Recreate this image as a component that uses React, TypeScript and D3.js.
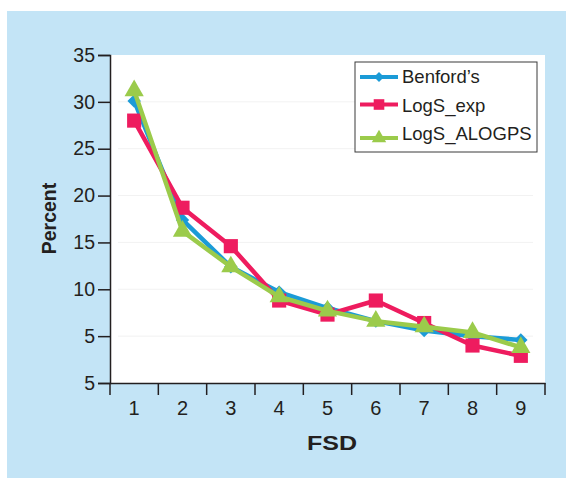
import React, { useEffect, useRef } from "react";
import * as d3 from "d3";

const digits = ["1", "2", "3", "4", "5", "6", "7", "8", "9"];
const benford = [30.1, 17.4, 12.4, 9.7, 8.0, 6.6, 5.6, 5.0, 4.6];
const logsExp = [28.0, 18.7, 14.6, 8.8, 7.3, 8.8, 6.4, 4.0, 2.9];
const logsAlogps = [31.2, 16.2, 12.4, 9.2, 7.7, 6.6, 6.0, 5.4, 3.8];
const yTickValues = [0, 5, 10, 15, 20, 25, 30, 35];
const yTickLabels = ["5", "5", "10", "15", "20", "25", "30", "35"];

const seriesNames = ["Benford\u2019s", "LogS_exp", "LogS_ALOGPS"];
const seriesColors = ["#1b9bd7", "#ee1c5f", "#9bcb4b"];
const seriesShapes = ["diamond", "square", "triangle"];

const App: React.FC = () => {
  const svgRef = useRef<SVGSVGElement | null>(null);

  useEffect(() => {
    const width = 568;
    const height = 480;
    const plot = { left: 110, right: 545, top: 55, bottom: 383 };
    const ink = "#231f20";
    const font = "'Liberation Sans', Arial, Helvetica, sans-serif";

    const svg = d3.select(svgRef.current);
    svg.selectAll("*").remove();
    svg.attr("width", width).attr("height", height);

    // background panel
    svg
      .append("rect")
      .attr("x", 7)
      .attr("y", 11)
      .attr("width", 559)
      .attr("height", 467)
      .attr("fill", "#c3e4f6");

    svg
      .append("rect")
      .attr("x", plot.left)
      .attr("y", plot.top)
      .attr("width", plot.right - plot.left)
      .attr("height", plot.bottom - plot.top)
      .attr("fill", "#ffffff");

    const x = d3
      .scaleBand<string>()
      .domain(digits)
      .range([plot.left, plot.right])
      .padding(0);

    const y = d3.scaleLinear().domain([0, 35]).range([plot.bottom, plot.top]);

    // faint gridlines
    svg
      .append("g")
      .selectAll("line")
      .data(yTickValues.slice(1, -1))
      .join("line")
      .attr("x1", plot.left + 8)
      .attr("x2", plot.right - 12)
      .attr("y1", (d) => y(d))
      .attr("y2", (d) => y(d))
      .attr("stroke", "#f2f2f2")
      .attr("stroke-width", 1);

    // y axis
    const yAxis = svg
      .append("g")
      .attr("transform", `translate(${plot.left},0)`)
      .call(
        d3
          .axisLeft(y)
          .tickValues(yTickValues)
          .tickSize(12)
          .tickPadding(3)
          .tickFormat((_d, i) => yTickLabels[i])
      );
    yAxis.select(".domain").attr("stroke", ink).attr("stroke-width", 1.5);
    yAxis.selectAll(".tick line").attr("stroke", ink).attr("stroke-width", 1.5);
    yAxis
      .selectAll(".tick text")
      .attr("fill", ink)
      .style("font-family", font)
      .style("font-size", "19.5px");

    // x axis
    const xAxis = svg
      .append("g")
      .attr("transform", `translate(0,${plot.bottom})`)
      .call(d3.axisBottom(x).tickSize(0).tickPadding(18));
    xAxis.select(".domain").attr("stroke", ink).attr("stroke-width", 1.5);
    xAxis
      .selectAll(".tick text")
      .attr("fill", ink)
      .style("font-family", font)
      .style("font-size", "20px");

    const bounds = [...digits.map((d) => x(d) as number), plot.right];
    svg
      .append("g")
      .selectAll("line")
      .data(bounds)
      .join("line")
      .attr("x1", (d) => d)
      .attr("x2", (d) => d)
      .attr("y1", plot.bottom)
      .attr("y2", plot.bottom + 12)
      .attr("stroke", ink)
      .attr("stroke-width", 1.5);

    // axis titles
    svg
      .append("text")
      .attr("x", 307)
      .attr("y", 450)
      .attr("textLength", 50)
      .attr("lengthAdjust", "spacingAndGlyphs")
      .attr("fill", ink)
      .style("font-family", font)
      .style("font-size", "19.5px")
      .style("font-weight", "bold")
      .text("FSD");

    svg
      .append("text")
      .attr("transform", `translate(56,218.5) rotate(-90)`)
      .attr("text-anchor", "middle")
      .attr("fill", ink)
      .style("font-family", font)
      .style("font-size", "19.5px")
      .style("font-weight", "bold")
      .text("Percent");

    const cx = (i: number) => (x(digits[i]) as number) + x.bandwidth() / 2;

    const markerPath = (shape: string) => {
      if (shape === "diamond") return d3.symbol(d3.symbolSquare, 90)();
      if (shape === "square") return d3.symbol(d3.symbolSquare, 200)();
      return d3.symbol(d3.symbolTriangle, 160)();
    };
    const markerRotate = (shape: string) => (shape === "diamond" ? 45 : 0);

    const allSeries = [benford, logsExp, logsAlogps];
    const line = d3
      .line<number>()
      .x((_d, i) => cx(i))
      .y((d) => y(d));

    allSeries.forEach((values, s) => {
      const g = svg.append("g");
      g.append("path")
        .attr("d", line(values))
        .attr("fill", "none")
        .attr("stroke", seriesColors[s])
        .attr("stroke-width", 4.5)
        .attr("stroke-linejoin", "round");
      g.selectAll("path.marker")
        .data(values)
        .join("path")
        .attr("class", "marker")
        .attr("d", markerPath(seriesShapes[s]))
        .attr(
          "transform",
          (d, i) =>
            `translate(${cx(i)},${y(d)}) rotate(${markerRotate(seriesShapes[s])})`
        )
        .attr("fill", seriesColors[s]);
    });

    // legend
    const legend = svg.append("g");
    legend
      .append("rect")
      .attr("x", 355)
      .attr("y", 62)
      .attr("width", 182)
      .attr("height", 90)
      .attr("fill", "#ffffff")
      .attr("stroke", "#3a3a3a")
      .attr("stroke-width", 1);

    const legendLineY = [77, 104.5, 138];
    const legendTextY = [83, 112, 140];
    seriesNames.forEach((name, s) => {
      const ly = legendLineY[s];
      legend
        .append("line")
        .attr("x1", 360)
        .attr("x2", 398)
        .attr("y1", ly)
        .attr("y2", ly)
        .attr("stroke", seriesColors[s])
        .attr("stroke-width", 4);
      legend
        .append("path")
        .attr("d", markerPath(seriesShapes[s]))
        .attr(
          "transform",
          `translate(379,${ly}) scale(0.75) rotate(${markerRotate(seriesShapes[s])})`
        )
        .attr("fill", seriesColors[s]);
      legend
        .append("text")
        .attr("x", 402)
        .attr("y", legendTextY[s])
        .attr("fill", ink)
        .style("font-family", font)
        .style("font-size", "18.5px")
        .text(name);
    });
  }, []);

  return (
    <svg
      ref={svgRef}
      style={{ position: "absolute", left: 0, top: 0, display: "block" }}
    ></svg>
  );
};

export default App;
